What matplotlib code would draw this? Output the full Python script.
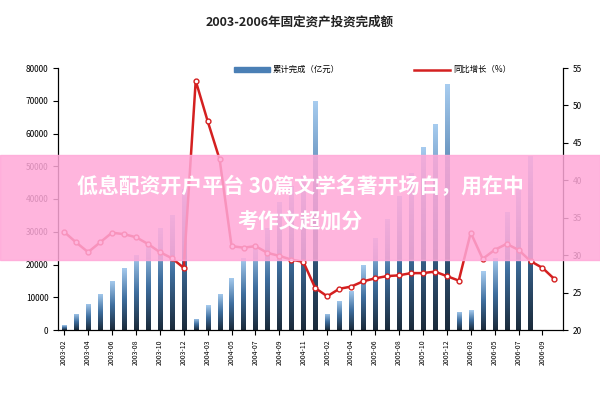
import numpy as np
import matplotlib
matplotlib.use("Agg")
import matplotlib.pyplot as plt
from matplotlib.patches import Rectangle

plt.rcParams['font.family'] = ['Noto Sans CJK SC', 'DejaVu Sans']

labels = (["2003-%02d" % m for m in range(2, 13)] + ["2004-%02d" % m for m in range(2, 13)]
          + ["2005-%02d" % m for m in range(2, 13)] + ["2006-%02d" % m for m in range(2, 11)])
invest = [1500, 5000, 8000, 11000, 15000, 19000, 23000, 26000, 31000, 35000, 43000,
          3500, 7500, 11000, 16000, 22000, 26000, 31000, 39000, 44000, 47000, 70000,
          5000, 9000, 12000, 20000, 28000, 34000, 41000, 48000, 56000, 63000, 75000,
          5500, 6000, 18000, 22000, 36000, 43000, 53000, 0, 0]
growth = [33.1, 31.7, 30.4, 31.7, 33.0, 32.8, 32.4, 31.5, 30.4, 29.6, 28.3,
          53.3, 47.9, 42.8, 31.2, 31.0, 31.2, 30.3, 29.9, 29.4, 29.1, 25.6,
          24.5, 25.5, 25.8, 26.5, 26.9, 27.2, 27.3, 27.6, 27.6, 27.8, 27.2,
          26.6, 33.0, 29.5, 30.7, 31.5, 30.7, 29.2, 28.3, 26.8]

fig = plt.figure(figsize=(6, 4), dpi=100)
ax = fig.add_axes([0.097, 0.175, 0.841, 0.655])
x = np.arange(len(invest))
bars = ax.bar(x, invest, width=0.35, color='none')
grad = np.linspace(0, 1, 256).reshape(-1, 1)
cmap = matplotlib.colors.LinearSegmentedColormap.from_list('g', ['#1a2a3a', '#3f6f9f', '#a8cdf0'])
for b in bars:
    h = b.get_height()
    if h <= 0:
        continue
    im = ax.imshow(grad, cmap=cmap, origin='lower', aspect='auto',
                   extent=[b.get_x(), b.get_x() + b.get_width(), 0, h], zorder=1)
    im.set_clip_path(b)
ax.set_xlim(-0.5, len(invest) - 0.3)
ax.set_ylim(0, 80000)
ax.set_yticks(range(0, 80001, 10000))
ax.set_yticklabels([str(v) for v in range(0, 80001, 10000)], fontsize=6)
ax.set_xticks(x[::2])
ax.set_xticklabels(labels[::2], rotation=90, fontsize=5)
ax.spines['top'].set_visible(False)

ax2 = ax.twinx()
ax2.plot(x, growth, color='#d42020', lw=1.8, marker='o', ms=3.5, mfc='white', mec='#d42020', zorder=3)
ax2.set_ylim(20, 55)
ax2.set_yticks(range(20, 56, 5))
ax2.tick_params(labelsize=6)
ax2.spines['top'].set_visible(False)

fig.text(0.5, 0.935, "2003-2006年固定资产投资完成额", ha='center', fontsize=9, color='#222222', weight='bold')
fig.patches.append(Rectangle((0.39, 0.82), 0.06, 0.012, transform=fig.transFigure, color='#4a7fb5'))
fig.text(0.455, 0.826, "累计完成（亿元）", fontsize=6, va='center')
fig.lines.append(matplotlib.lines.Line2D([0.69, 0.75], [0.826, 0.826], transform=fig.transFigure, color='#d42020', lw=1.8))
fig.text(0.755, 0.826, "同比增长（%）", fontsize=6, va='center')

fig.patches.append(Rectangle((0, 0.35), 1, 0.262, transform=fig.transFigure, color='#ffa8d8', alpha=0.85, zorder=10))
fig.text(0.5, 0.535, "低息配资开户平台 30篇文学名著开场白，用在中", ha='center', va='center',
         fontsize=15, color='white', weight='bold', zorder=11)
fig.text(0.5, 0.445, "考作文超加分", ha='center', va='center', fontsize=15, color='white', weight='bold', zorder=11)
fig.savefig("out.png", dpi=100)
